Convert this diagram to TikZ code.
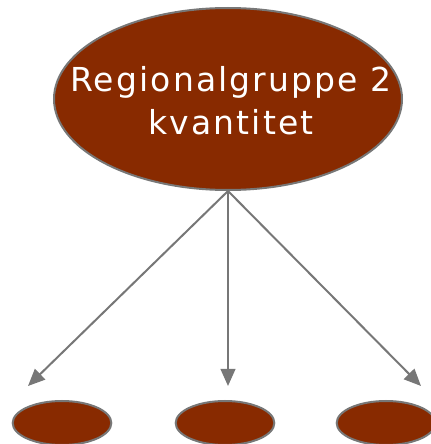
\documentclass[tikz,border=0pt]{standalone}
\usepackage{fontspec}
\setmainfont{DejaVu Sans}
\newfontfamily\blobfont[LetterSpace=6.5]{DejaVu Sans}
\usetikzlibrary{shapes.geometric,arrows.meta}
\definecolor{blobred}{HTML}{882A00}
\definecolor{linegray}{HTML}{777777}

\begin{document}
\begin{tikzpicture}[x=0.75pt,y=0.75pt,
  blob/.style={ellipse,draw=linegray,line width=1.5pt,fill=blobred,inner sep=0pt},
  bigblob/.style={blob,minimum width=261pt,minimum height=136.5pt},
  smallblob/.style={blob,minimum width=74pt,minimum height=33pt},
  blobtext/.style={text=white,align=center,font=\blobfont\fontsize{24.75}{32.25}\selectfont},
  link/.style={draw=linegray,line width=1.5pt,-{Triangle[length=12.75pt,width=11pt]}}]
\useasboundingbox (0,0) rectangle (431,444);
\node[bigblob] (group) at (228,345){};
\node[blobtext] (grouplabel) at (231,343.5){Regionalgruppe 2\\kvantitet};
\node[smallblob] (subleft) at (62,21){};
\node[smallblob] (submid) at (225,21){};
\node[smallblob] (subright) at (386,21){};
\coordinate (tipleft) at (28,58);
\coordinate (tipmid) at (228,58);
\coordinate (tipright) at (421,58);
\draw[link] (group.south) -- (tipleft);
\draw[link] (group.south) -- (tipmid);
\draw[link] (group.south) -- (tipright);
\end{tikzpicture}
\end{document}
